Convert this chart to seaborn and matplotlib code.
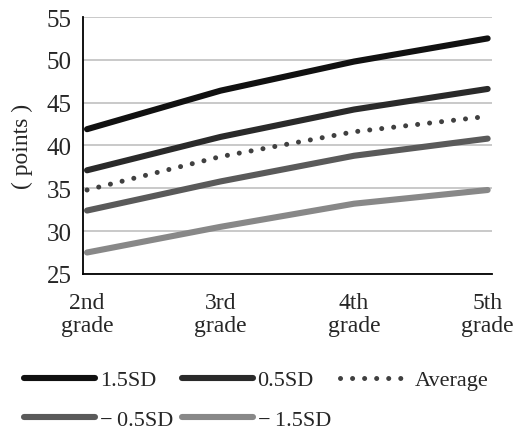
import numpy as np
import pandas as pd
import matplotlib
matplotlib.use('Agg')
import matplotlib.pyplot as plt
import seaborn as sns

grades = ['2nd\ngrade', '3rd\ngrade', '4th\ngrade', '5th\ngrade']
sd_p15 = [41.9, 46.4, 49.8, 52.5]
sd_p05 = [37.1, 41.0, 44.2, 46.6]
average = [34.8, 38.7, 41.6, 43.4]
sd_m05 = [32.4, 35.8, 38.8, 40.8]
sd_m15 = [27.5, 30.5, 33.2, 34.8]
names = ['1.5SD', '0.5SD', 'Average', '\u2212\u20090.5SD', '\u2212\u20091.5SD']

sns.set_style('white')
plt.rcParams['font.family'] = ['Liberation Serif', 'DejaVu Serif']

fig = plt.figure(figsize=(5.14, 4.35), dpi=100)
ax = fig.add_axes([0.1615, 0.368, 0.795, 0.5906])

series = [sd_p15, sd_p05, average, sd_m05, sd_m15]
colors = ['#111111', '#2a2a2a', '#404040', '#5a5a5a', '#888888']
styles = ['-', '-', (0, (0.01, 2.4)), '-', '-']
xs = np.arange(len(grades))
for vals, name, c, ls in zip(series, names, colors, styles):
    df = pd.DataFrame({'x': xs, 'y': vals})
    sns.lineplot(data=df, x='x', y='y', ax=ax, color=c, lw=4.4 if ls == '-' else 3.6,
                 linestyle=ls, label=name, solid_capstyle='round',
                 dash_capstyle='round')

ax.set_ylim(25, 55)
ax.set_yticks(range(25, 56, 5))
ax.set_xlim(-0.03, 3.03)
ax.set_xticks(xs)
ax.set_xticklabels(grades, fontsize=17, linespacing=1.15)
ax.tick_params(axis='y', labelsize=18, length=0, pad=8)
ax.tick_params(axis='x', length=0, pad=13)
ax.set_xlabel('')
ax.set_ylabel('( points )', fontsize=17, labelpad=10)
ax.grid(axis='y', color='#c0c0c0', lw=1.2)
for s in ['top', 'right']:
    ax.spines[s].set_visible(False)
for s in ['left', 'bottom']:
    ax.spines[s].set_color('black')
    ax.spines[s].set_linewidth(1.3)

handles, labels = ax.get_legend_handles_labels()
order = [0, 3, 1, 4, 2]
ax.legend([handles[i] for i in order], [labels[i] for i in order],
          loc='upper left', bbox_to_anchor=(0.03, 0.168),
          bbox_transform=fig.transFigure, ncol=3, frameon=False, fontsize=16,
          handlelength=3.2, handletextpad=0.2, columnspacing=0.4,
          labelspacing=0.85, borderaxespad=0)

fig.savefig('out.png', dpi=100)
